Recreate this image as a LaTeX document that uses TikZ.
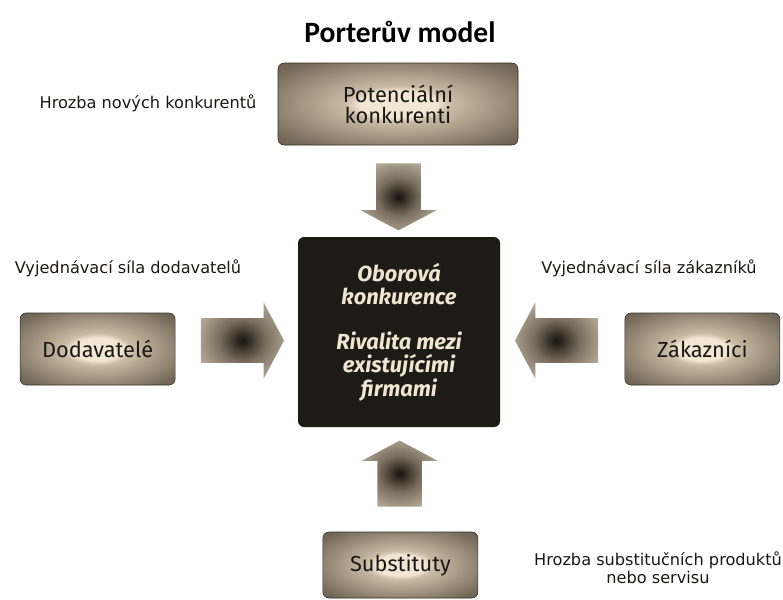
\documentclass[tikz,border=0pt]{standalone}
\usepackage{fontspec}
\setmainfont{DejaVu Sans}
\newfontfamily\titlefont{Carlito}
\newfontfamily\boxfont{Fira Sans}
\usetikzlibrary{shapes.arrows, calc, positioning}
\definecolor{BoxLite}{HTML}{F2E7D3}
\definecolor{BoxMid} {HTML}{C9BCA5}
\definecolor{BoxDim} {HTML}{7A6E5E}
\definecolor{BoxDark}{HTML}{363029}
\definecolor{ArrCore}{HTML}{17120E}
\definecolor{ArrMid} {HTML}{7A6E5F}
\definecolor{ArrEdge}{HTML}{DCD0BC}
\definecolor{Rival}  {HTML}{1E1A16}
\definecolor{RivalTx}{HTML}{EFE5D1}
\definecolor{Ink}    {HTML}{1A1816}
\pgfdeclareradialshading{boxglow}{\pgfpointorigin}{color(0bp)=(BoxLite); color(8bp)=(BoxLite);
  color(11bp)=(BoxMid); color(30bp)=(BoxDim); color(50bp)=(BoxDark); color(75bp)=(BoxDark)}
\pgfdeclareradialshading{arrowglow}{\pgfpointorigin}{color(0bp)=(ArrCore); color(14bp)=(ArrMid);
  color(38bp)=(ArrEdge); color(75bp)=(ArrEdge)}

\begin{document}
\begin{tikzpicture}[
  force/.style={rounded corners=1.5mm, shading=boxglow, draw=BoxDark, line width=0.4pt,
                minimum width=3.875cm, minimum height=1.8cm, align=center, text=Ink,
                font=\boxfont\fontsize{15.5}{15}\selectfont},
  rivalbox/.style={rounded corners=1.5mm, fill=Rival, minimum width=5.05cm, minimum height=4.75cm,
                   align=center, text=RivalTx, font=\boxfont\bfseries\itshape\fontsize{15.5}{16.4}\selectfont},
  fatarrow/.style={single arrow, shading=arrowglow, draw=none, inner xsep=0pt, inner ysep=0.55cm,
                   minimum height=2.075cm, single arrow head extend=0.4cm, single arrow tip angle=124},
  lbl/.style={font=\fontsize{11.5}{13}\selectfont, text=Ink, align=center}
]
  \useasboundingbox (0,0) rectangle (19.575,-14.975);

  \node[font=\titlefont\bfseries\fontsize{21}{24}\selectfont] (title) at (10.0,-0.8) {Porterův model};

  % the five forces
  \node[rivalbox] (rival) at (9.975,-8.3)
      {Oborová\\konkurence\\[16pt]Rivalita mezi\\existujícími\\firmami};
  \node[force, minimum width=6cm, minimum height=2.05cm] (pot) at (9.95,-2.6) {Potenciální\\konkurenti};
  \node[force] (supp) at (2.44,-8.725)   {Dodavatelé};
  \node[force] (cust) at (17.56,-8.725)  {Zákazníci};
  \node[force, minimum height=1.65cm] (subst) at (10.01,-14.125) {Substituty};

  % block arrows pointing in at the rivalry
  \node[fatarrow, minimum height=1.675cm, rotate=-90] (adown) at ($(pot.south)!0.5!(rival.north)$) {};
  \node[fatarrow, minimum height=1.65cm, rotate=90]   (aup)   at ($(subst.north)!0.5!(rival.south)$) {};
  \node[fatarrow]                                     (aright) at ($(supp.east)!0.5!(rival.west)$) {};
  \node[fatarrow, rotate=180]                         (aleft)  at ($(cust.west)!0.5!(rival.east)$) {};

  % what each force stands for
  \node[lbl] (tnew)  at (3.7,-2.575)   {Hrozba nových konkurentů};
  \node[lbl] (tsupp) at (3.2,-6.7)     {Vyjednávací síla dodavatelů};
  \node[lbl] (tcust) at (16.225,-6.7)  {Vyjednávací síla zákazníků};
  \node[lbl] (tsub)  at (16.45,-14.2)  {Hrozba substitučních produktů\\nebo servisu};
\end{tikzpicture}
\end{document}
